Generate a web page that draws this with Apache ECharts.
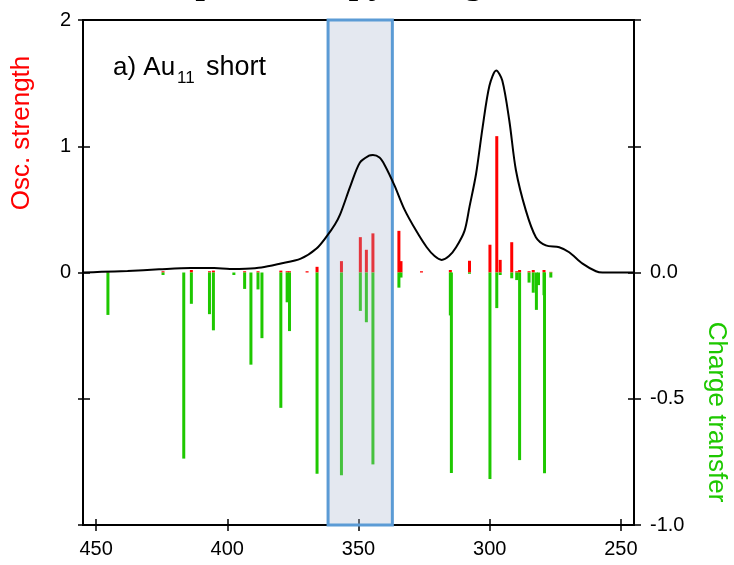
<!DOCTYPE html>
<html><head><meta charset="utf-8">
<script src="https://cdn.jsdelivr.net/npm/echarts@6/dist/echarts.min.js"></script>
<style>html,body{margin:0;padding:0;background:#fff}#c{width:734px;height:565px}</style>
</head><body><div id="c"></div>
<script>
// Transition wavelengths (nm)
const wavelengths = [445.5, 424.5, 416.6, 413.7, 406.8, 405.3, 397.5, 393.4, 391.0, 388.3, 386.8, 379.6, 377.2, 376.3, 369.6, 365.8, 356.5, 349.3, 347.0, 344.5, 334.6, 333.8, 326.0, 315.0, 314.6, 307.7, 299.9, 297.3, 296.0, 291.6, 289.7, 288.6, 285.0, 283.4, 282.2, 281.4, 279.3, 279.1, 276.7];
// Oscillator strength (left axis, red)
const oscStrength = [0.005, 0.01, 0, 0.02, 0.01, 0.015, 0, 0.01, 0, 0.01, 0, 0.015, 0.01, 0.01, 0.01, 0.045, 0.09, 0.28, 0.18, 0.31, 0.33, 0.09, 0.01, 0.02, 0, 0.093, 0.22, 1.08, 0.1, 0.24, 0.01, 0.02, 0.01, 0.02, 0, 0, 0.02, 0, 0.005];
// Charge transfer (right axis, green)
const chargeTransfer = [-0.168, -0.01, -0.737, -0.124, -0.165, -0.229, -0.01, -0.065, -0.365, -0.067, -0.26, -0.536, -0.118, -0.232, 0, -0.797, -0.803, -0.152, -0.197, -0.76, -0.06, -0.02, 0, -0.17, -0.794, -0.005, -0.818, -0.141, -0.01, -0.023, -0.03, -0.743, -0.04, -0.08, -0.148, -0.05, -0.09, -0.795, -0.02];
// Broadened spectrum
const spectrumX = [455, 448, 438, 426, 414, 405, 399, 393, 387, 380, 372, 366, 362, 359, 357, 353, 349.5, 346, 344.5, 342, 340, 336.3, 332.5, 328, 324, 321, 318.3, 315.5, 312.8, 309.6, 307.7, 305.2, 302.7, 300.1, 297.5, 295.2, 292.5, 290, 286.2, 282.4, 278.6, 273.5, 269.7, 264.6, 259.5, 257, 245];
const spectrumY = [0.0, 0.005, 0.012, 0.025, 0.035, 0.035, 0.028, 0.03, 0.04, 0.07, 0.11, 0.19, 0.29, 0.38, 0.46, 0.69, 0.87, 0.925, 0.93, 0.91, 0.85, 0.69, 0.5, 0.33, 0.2, 0.13, 0.1, 0.13, 0.2, 0.33, 0.52, 0.78, 1.15, 1.48, 1.6, 1.52, 1.2, 0.81, 0.49, 0.28, 0.215, 0.2, 0.16, 0.07, 0.01, 0.0, 0.0];
const xTicks = [450, 400, 350, 300, 250];
const leftTicks = [0, 1, 2];
const rightTicks = [0, -0.5, -1];
const highlightRange = [361.6, 337.1];

const FONT = 'Liberation Sans';
const RED = '#ff0000';
const GREEN = '#1ec800';

const xBase = {type: 'value', min: 245, max: 455, inverse: true, position: 'bottom', offset: 0, splitLine: {show: false}};
const tickStyle = {color: '#000', width: 1.5};

const chart = echarts.init(document.getElementById('c'), null, {renderer: 'canvas'});
chart.setOption({
  animation: false,
  backgroundColor: '#fff',
  grid: {left: 83, right: 100, top: 20, bottom: 40, show: true, borderColor: '#000', borderWidth: 2, backgroundColor: 'transparent'},
  xAxis: [
    Object.assign({}, xBase, {
      axisLine: {show: true, onZero: false, lineStyle: {color: '#000', width: 2}},
      axisTick: {show: true, inside: false, length: 6, lineStyle: tickStyle, customValues: xTicks},
      axisLabel: {show: true, customValues: xTicks, fontSize: 20, color: '#000', fontFamily: FONT, margin: 14}
    }),
    Object.assign({}, xBase, {
      axisLine: {show: false, onZero: false},
      axisTick: {show: true, inside: true, length: 6, lineStyle: tickStyle, customValues: xTicks},
      axisLabel: {show: false}
    })
  ],
  yAxis: [
    {type: 'value', min: -2, max: 2, interval: 1, position: 'left', offset: 0,
     axisLine: {show: true, onZero: false, lineStyle: {color: '#000', width: 2}},
     axisTick: {show: true, inside: false, length: 5, lineStyle: tickStyle},
     axisLabel: {customValues: leftTicks, fontSize: 20, color: '#000', fontFamily: FONT, margin: 12},
     splitLine: {show: false}},
    {type: 'value', min: -2, max: 2, interval: 1, position: 'left', offset: 0,
     axisLine: {show: false, onZero: false}, axisTick: {show: true, inside: true, length: 7, lineStyle: tickStyle},
     axisLabel: {show: false}, splitLine: {show: false}},
    {type: 'value', min: -1, max: 1, interval: 0.5, position: 'right', offset: 0,
     axisLine: {show: true, onZero: false, lineStyle: {color: '#000', width: 2}},
     axisTick: {show: true, inside: false, length: 7, lineStyle: tickStyle},
     axisLabel: {customValues: rightTicks, formatter: v => Number(v).toFixed(1), fontSize: 20, color: '#000', fontFamily: FONT, margin: 16},
     splitLine: {show: false}},
    {type: 'value', min: -1, max: 1, interval: 0.5, position: 'right', offset: 0,
     axisLine: {show: false, onZero: false}, axisTick: {show: true, inside: true, length: 6, lineStyle: tickStyle},
     axisLabel: {show: false}, splitLine: {show: false}}
  ],
  series: [
    {type: 'bar', name: 'osc', xAxisIndex: 0, yAxisIndex: 0, barWidth: 3, barGap: '-100%', z: 2,
     itemStyle: {color: RED}, data: wavelengths.map((w, i) => [w, oscStrength[i]])},
    {type: 'bar', name: 'ct', xAxisIndex: 0, yAxisIndex: 2, barWidth: 3, barGap: '-100%', z: 2,
     itemStyle: {color: GREEN}, data: wavelengths.map((w, i) => [w, chargeTransfer[i]])},
    {type: 'line', name: 'box', xAxisIndex: 0, yAxisIndex: 0, data: [], z: 3,
     markArea: {silent: true, z: 3,
       itemStyle: {color: 'rgba(165,180,205,0.3)', borderColor: '#5b9bd5', borderWidth: 3},
       data: [[{xAxis: highlightRange[0]}, {xAxis: highlightRange[1]}]]}},
    {type: 'line', name: 'spectrum', xAxisIndex: 0, yAxisIndex: 0, z: 5, smooth: 0.3, symbol: 'none',
     lineStyle: {color: '#000', width: 2}, data: spectrumX.map((x, i) => [x, spectrumY[i]])}
  ],
  graphic: [
    {type: 'text', x: 173, y: -19, style: {text: 'Spectroscopy Range', fontFamily: 'Liberation Serif', fontSize: 40, fill: '#000', align: 'left', verticalAlign: 'middle'}},
    {type: 'text', x: 22, y: 133, rotation: Math.PI / 2, style: {text: 'Osc. strength', fontFamily: FONT, fontSize: 26, fill: RED, align: 'center', verticalAlign: 'middle'}},
    {type: 'text', x: 716, y: 412, rotation: -Math.PI / 2, style: {text: 'Charge transfer', fontFamily: FONT, fontSize: 26, fill: GREEN, align: 'center', verticalAlign: 'middle'}},
    {type: 'text', x: 113, y: 68, style: {text: 'a) Au', fontFamily: FONT, fontSize: 26, fill: '#000', align: 'left', verticalAlign: 'middle'}},
    {type: 'text', x: 177, y: 78, style: {text: '11', fontFamily: FONT, fontSize: 17, fill: '#000', align: 'left', verticalAlign: 'middle'}},
    {type: 'text', x: 206, y: 68, style: {text: 'short', fontFamily: FONT, fontSize: 27, fill: '#000', align: 'left', verticalAlign: 'middle'}}
  ]
});
</script>
</body></html>
